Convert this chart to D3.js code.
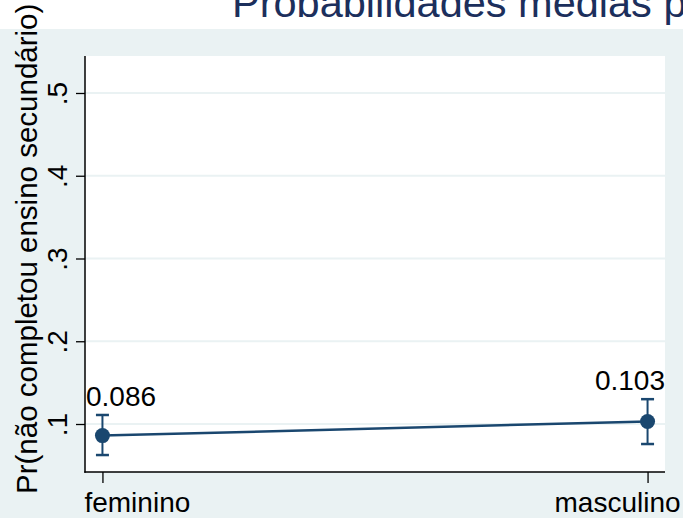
<!DOCTYPE html>
<html>
<head>
<meta charset="utf-8">
<script src="https://cdn.jsdelivr.net/npm/d3@7"></script>
<style>
  html, body { margin: 0; padding: 0; background: #fff; }
  svg { display: block; font-family: "Liberation Sans", Arial, sans-serif; }
</style>
</head>
<body>
<div id="chart"></div>
<script>
const categories = ["feminino", "masculino"];
const margins = [0.086, 0.103];
const ciLower = [0.0625, 0.0758];
const ciUpper = [0.1109, 0.130];
const yTicks = [0.1, 0.2, 0.3, 0.4, 0.5];
const yTickLabels = [".1", ".2", ".3", ".4", ".5"];
const pointLabels = ["0.086", "0.103"];

const width = 683, height = 518;
const navy = "#1a476f";
const bg = "#eaf2f3";

// plot region edges
const plot = { left: 85, right: 665, top: 56, bottom: 472 };

const svg = d3.select('#chart').append('svg')
  .attr('width', width)
  .attr('height', height);

// graph region (white strip on top is outside it)
svg.append('rect').attr('x', 0).attr('y', 29).attr('width', width).attr('height', height - 29).attr('fill', bg);
svg.append('rect')
  .attr('x', plot.left).attr('y', plot.top)
  .attr('width', plot.right - plot.left).attr('height', plot.bottom - plot.top)
  .attr('fill', '#fff');

const x = d3.scalePoint().domain(categories).range([plot.left, plot.right]).padding(0.032);
const y = d3.scaleLinear().domain([0.042, 0.5447]).range([plot.bottom, plot.top]);

// gridlines
svg.append('g').selectAll('line')
  .data(yTicks)
  .enter().append('line')
  .attr('x1', plot.left).attr('x2', plot.right)
  .attr('y1', d => y(d)).attr('y2', d => y(d))
  .attr('stroke', bg).attr('stroke-width', 2);

// y axis
const yAxis = d3.axisLeft(y).tickValues(yTicks)
  .tickFormat((d, i) => yTickLabels[i]).tickSize(9).tickPadding(0);
const gy = svg.append('g').attr('transform', `translate(${plot.left},0)`).call(yAxis);
gy.select('.domain').remove();
gy.selectAll('.tick line').attr('stroke', '#000').attr('stroke-width', 1.3);
gy.selectAll('.tick text')
  .attr('x', null).attr('dy', null)
  .attr('transform', 'translate(-18,0) rotate(-90)')
  .attr('text-anchor', 'middle')
  .attr('fill', '#000')
  .style('font-size', '28px');
svg.append('line')
  .attr('x1', plot.left).attr('x2', plot.left)
  .attr('y1', plot.top).attr('y2', plot.bottom + 0.7)
  .attr('stroke', '#000').attr('stroke-width', 1.5);

// x axis
const xAxis = d3.axisBottom(x).tickSize(11).tickFormat('');
const gx = svg.append('g').attr('transform', `translate(0,${plot.bottom})`).call(xAxis);
gx.select('.domain').remove();
gx.selectAll('.tick line').attr('stroke', '#000').attr('stroke-width', 1.3);
svg.append('line')
  .attr('x1', plot.left - 0.7).attr('x2', plot.right)
  .attr('y1', plot.bottom).attr('y2', plot.bottom)
  .attr('stroke', '#000').attr('stroke-width', 1.5);

// x labels, kept inside the picture
svg.append('g').selectAll('text')
  .data(categories)
  .enter().append('text')
  .attr('x', (d, i) => i == 0 ? x(d) - 18 : x(d) + 33)
  .attr('y', 512)
  .attr('text-anchor', (d, i) => i == 0 ? 'start' : 'end')
  .style('font-size', '28px')
  .attr('fill', '#000')
  .text(d => d);

// y title
svg.append('text')
  .attr('transform', `translate(37,${494}) rotate(-90)`)
  .attr('text-anchor', 'start')
  .style('font-size', '29.5px')
  .attr('fill', '#000')
  .text('Pr(não completou ensino secundário)');

// title (runs off the right edge, as in the original)
svg.append('text')
  .attr('x', 232).attr('y', 17)
  .style('font-size', '41.5px')
  .attr('fill', '#1c2f5c')
  .text('Probabilidades médias previstas');

// connecting line
const line = d3.line().x((d, i) => x(categories[i])).y(d => y(d));
svg.append('path')
  .datum(margins)
  .attr('d', line)
  .attr('fill', 'none')
  .attr('stroke', navy)
  .attr('stroke-width', 2.5);

// error bars
const eb = svg.append('g').selectAll('g')
  .data(categories)
  .enter().append('g');
eb.append('line')
  .attr('x1', d => x(d)).attr('x2', d => x(d))
  .attr('y1', (d, i) => y(ciLower[i])).attr('y2', (d, i) => y(ciUpper[i]))
  .attr('stroke', navy).attr('stroke-width', 2);
[ciLower, ciUpper].forEach(arr => {
  eb.append('line')
    .attr('x1', d => x(d) - 6.5).attr('x2', d => x(d) + 6.5)
    .attr('y1', (d, i) => y(arr[i])).attr('y2', (d, i) => y(arr[i]))
    .attr('stroke', navy).attr('stroke-width', 2.5);
});

// markers
svg.append('g').selectAll('circle')
  .data(margins)
  .enter().append('circle')
  .attr('cx', (d, i) => x(categories[i]))
  .attr('cy', d => y(d))
  .attr('r', 7.5)
  .attr('fill', navy);

// value labels, clamped to the plot region
svg.append('g').selectAll('text')
  .data(pointLabels)
  .enter().append('text')
  .attr('x', (d, i) => i == 0 ? plot.left + 1 : plot.right)
  .attr('y', (d, i) => y(ciUpper[i]) - 9)
  .attr('text-anchor', (d, i) => i == 0 ? 'start' : 'end')
  .style('font-size', '28px')
  .attr('fill', '#000')
  .text(d => d);
</script>
</body>
</html>
